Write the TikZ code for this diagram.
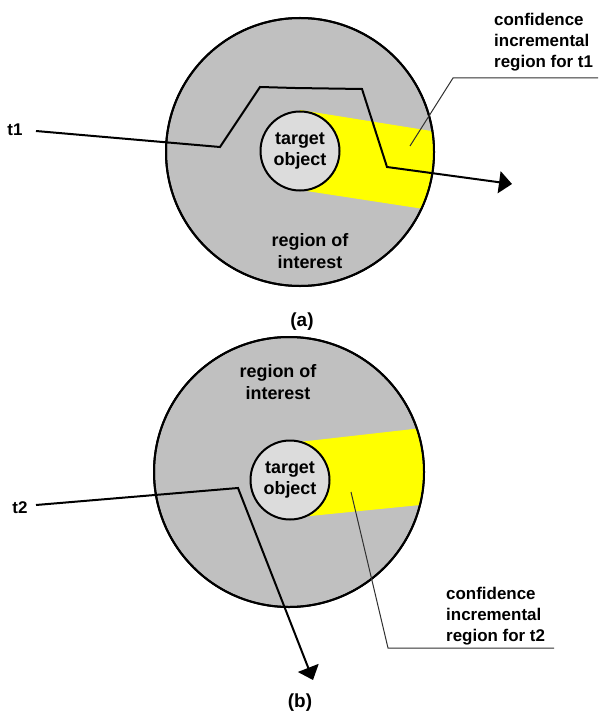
\documentclass[tikz,border=0pt]{standalone}
\usepackage{fontspec}
\setmainfont{Liberation Sans}
\usetikzlibrary{arrows.meta}
\definecolor{roigray}{HTML}{C0C0C0}
\definecolor{tgtgray}{HTML}{DCDCDC}
\definecolor{hiyellow}{HTML}{FFFF00}
\definecolor{leadgray}{HTML}{303030}
\begin{document}
\begin{tikzpicture}[x=1bp,y=-1bp,
  roi/.style={circle,draw=black,line width=2bp,fill=roigray,inner sep=0pt},
  roiline/.style={circle,draw=black,line width=2bp,inner sep=0pt},
  tgt/.style={circle,draw=black,line width=2bp,fill=tgtgray,inner sep=0pt,minimum size=79bp,
    font=\bfseries\fontsize{18}{22}\selectfont,align=center},
  traj/.style={line width=2bp,line join=miter,-{Triangle[length=13bp,width=22bp]}},
  lead/.style={line width=1bp,draw=leadgray},
  lbl/.style={font=\bfseries\fontsize{17}{21}\selectfont,align=left,inner sep=0pt},
  ctext/.style={font=\bfseries\fontsize{18}{22}\selectfont,align=center,inner sep=0pt},
  captxt/.style={font=\bfseries\fontsize{19}{22}\selectfont,inner sep=0pt}]
\useasboundingbox (0,0) rectangle (600,716);
% ---------- (a) ----------
\node[roi,minimum size=268bp] (roiA) at (300,152) {};
\begin{scope}
  \clip (300,152) circle[radius=133bp];
  \fill[hiyellow] (300,110) -- (450,134) -- (450,213) -- (300,190) -- cycle;
\end{scope}
\node[roiline,minimum size=268bp] (roiAo) at (300,152) {};
\node[tgt] (tgtA) at (300,151) {target\\object};
\node[ctext] (roiAtxt) at (310,251) {region of\\interest};
\node[lbl] (t1) at (15,130) {t1};
\coordinate (a0) at (36,131);
\coordinate (a1) at (220,147);
\coordinate (a2) at (260,87);
\coordinate (a3) at (295,88);
\coordinate (a4) at (362,89);
\coordinate (a5) at (387,167);
\coordinate (a6) at (512,184);
\draw[traj] (a0) -- (a1) -- (a2) -- (a3) -- (a4) -- (a5) -- (a6);
\node[lbl,anchor=west] (confA) at (494,42) {confidence\\incremental\\region for t1};
\coordinate (la0) at (410,146);
\coordinate (la1) at (453,78);
\coordinate (la2) at (598,78);
\draw[lead] (la0) -- (la1) -- (la2);
\node[captxt] (capA) at (302,322) {(a)};
% ---------- (b) ----------
\node[roi,minimum size=270bp] (roiB) at (289,472) {};
\begin{scope}
  \clip (289,472) circle[radius=134bp];
  \fill[hiyellow] (290,443) -- (440,426) -- (440,503) -- (290,518) -- cycle;
\end{scope}
\node[roiline,minimum size=270bp] (roiBo) at (289,472) {};
\node[tgt] (tgtB) at (290,480) {target\\object};
\node[ctext] (roiBtxt) at (278,382) {region of\\interest};
\node[lbl] (t2) at (20,508) {t2};
\coordinate (b0) at (36,505);
\coordinate (b1) at (238,488);
\coordinate (b2) at (313,680);
\draw[traj] (b0) -- (b1) -- (b2);
\node[lbl,anchor=west] (confB) at (446,616) {confidence\\incremental\\region for t2};
\coordinate (lb0) at (351,492);
\coordinate (lb1) at (388,648);
\coordinate (lb2) at (554,648);
\draw[lead] (lb0) -- (lb1) -- (lb2);
\node[captxt] (capB) at (300,703) {(b)};
\end{tikzpicture}
\end{document}
